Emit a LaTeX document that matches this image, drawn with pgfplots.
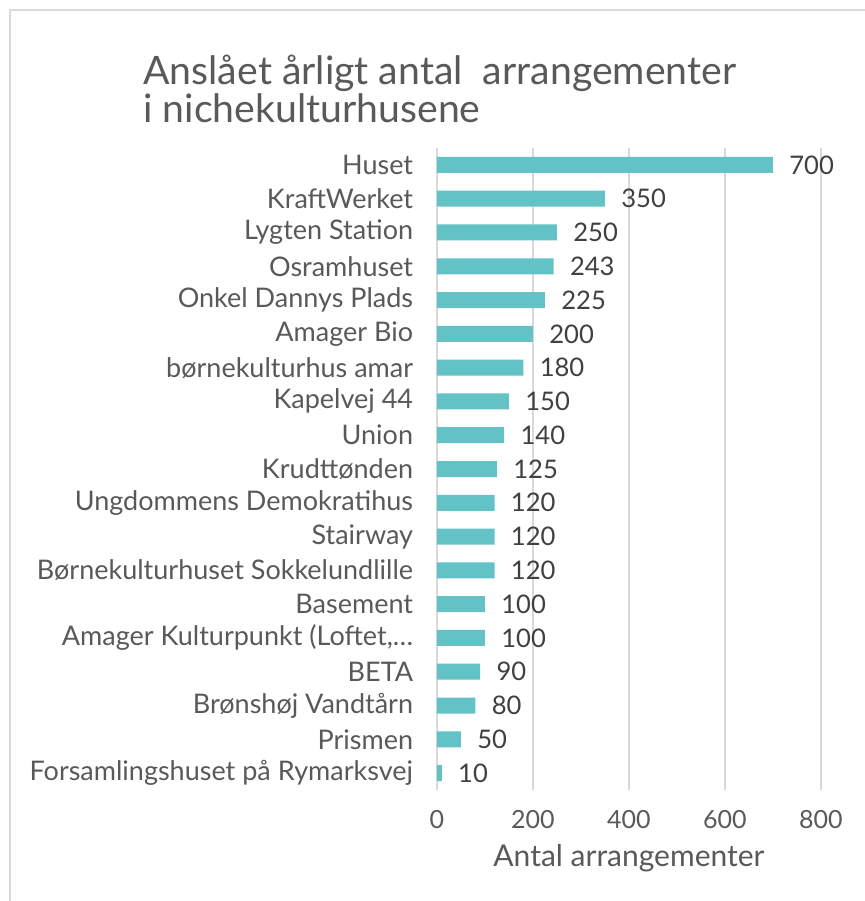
\documentclass[border=0pt]{standalone}
\usepackage{fontspec}
\setmainfont{Lato}
\usepackage{pgfplots}
\pgfplotsset{compat=1.18}
\definecolor{barc}{HTML}{62C2C6}
\definecolor{txt}{HTML}{404040}
\definecolor{lbl}{HTML}{595959}
\definecolor{grd}{HTML}{D9D9D9}
\begin{document}
\begin{tikzpicture}
\useasboundingbox (0pt,0pt) rectangle (432.5pt,450.5pt);
\draw[grd, line width=0.8pt] (5pt,0pt) -- (5pt,445.5pt) -- (432.5pt,445.5pt);
\node[anchor=north west, align=left, font=\fontsize{19.6}{18}\selectfont, text=lbl, inner sep=0] at (71.5pt,423pt) {Anslået årligt antal\ \ arrangementer\\i nichekulturhusene};
\begin{axis}[at={(218.5pt,55.5pt)}, anchor=south west, scale only axis,
  width=192pt, height=321pt,
  xmin=0, xmax=800, ymin=-0.5, ymax=18.5, y dir=reverse,
  xbar, bar width=8pt,
  xtick={0,200,...,800}, ytick={0,...,18},
  yticklabels={Huset,KraftWerket,Lygten Station,Osramhuset,Onkel Dannys Plads,Amager Bio,børnekulturhus amar,Kapelvej 44,Union,Krudttønden,Ungdommens Demokratihus,Stairway,Børnekulturhuset Sokkelundlille,Basement,{Amager Kulturpunkt (Loftet,…},BETA,Brønshøj Vandtårn,Prismen,Forsamlingshuset på Rymarksvej},
  /pgf/number format/assume math mode=true,
  xmajorgrids, major grid style={grd, line width=0.8pt},
  axis line style={draw=none}, tick style={draw=none},
  yticklabel style={font=\fontsize{13.5}{15}\selectfont, text=lbl, inner sep=0, anchor=east, xshift=-7.5pt},
  xticklabel style={font=\fontsize{12.5}{14}\selectfont, text=lbl, inner sep=0, anchor=center, yshift=-15pt},
  xlabel={Antal arrangementer},
  xlabel style={font=\fontsize{15}{17}\selectfont, text=lbl, inner sep=0, anchor=center, at={(axis description cs:0.5,0)}, yshift=-34pt},
  nodes near coords,
  nodes near coords style={font=\fontsize{12.8}{14}\selectfont, text=txt, anchor=west, inner sep=0, xshift=8pt},
]
\addplot[fill=barc, draw=none] coordinates {
(700,0) (350,1) (250,2) (243,3) (225,4) (200,5) (180,6) (150,7) (140,8) (125,9)
(120,10) (120,11) (120,12) (100,13) (100,14) (90,15) (80,16) (50,17) (10,18)};
\end{axis}
\end{tikzpicture}
\end{document}
